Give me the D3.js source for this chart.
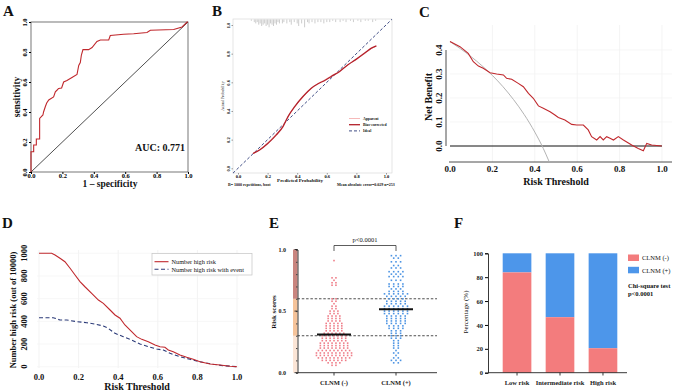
<!DOCTYPE html>
<html>
<head>
<meta charset="utf-8">
<script src="https://cdnjs.cloudflare.com/ajax/libs/d3/7.8.5/d3.min.js"></script>
<style>
body { margin: 0; background: #fff; }
svg { display: block; font-family: "Liberation Serif", "Times New Roman", serif; }
</style>
</head>
<body>
<svg></svg>
<script>
// ---- data ----

// A: ROC curve
let rocFpr = [0, 0, 0.017, 0.017, 0.034, 0.034, 0.055, 0.055, 0.076, 0.08, 0.091, 0.1, 0.113, 0.144, 0.155, 0.165, 0.176, 0.195, 0.208, 0.229, 0.261, 0.293, 0.304, 0.314, 0.321, 0.331, 0.367, 0.389, 0.42, 0.442, 0.495, 0.505, 0.59, 0.654, 0.739, 0.76, 0.909, 0.962, 0.994, 1]
let rocTpr = [0, 0.135, 0.135, 0.18, 0.18, 0.22, 0.22, 0.357, 0.38, 0.4, 0.435, 0.46, 0.48, 0.5, 0.535, 0.545, 0.557, 0.56, 0.6, 0.61, 0.63, 0.65, 0.71, 0.73, 0.78, 0.816, 0.816, 0.83, 0.87, 0.88, 0.88, 0.91, 0.918, 0.922, 0.93, 0.945, 0.95, 0.967, 1, 1]
let aucText = "AUC: 0.771"

// B: calibration
let calPred = [0.101, 0.146, 0.203, 0.259, 0.304, 0.338, 0.383, 0.439, 0.495, 0.541, 0.586, 0.63, 0.687, 0.743, 0.8, 0.856, 0.901, 0.935]
let calBias = [0.103, 0.128, 0.175, 0.233, 0.291, 0.361, 0.431, 0.501, 0.559, 0.59, 0.613, 0.641, 0.676, 0.722, 0.762, 0.804, 0.839, 0.855]
let calApparent = [0.105, 0.131, 0.18, 0.24, 0.296, 0.362, 0.428, 0.497, 0.556, 0.592, 0.617, 0.645, 0.678, 0.722, 0.76, 0.8, 0.835, 0.852]
let idealRange = [-0.034, 1.04]
let rugPred = [0.09, 0.11, 0.12, 0.13, 0.14, 0.15, 0.16, 0.17, 0.18, 0.19, 0.2, 0.21, 0.22, 0.23, 0.24, 0.25, 0.26, 0.27, 0.28, 0.3, 0.31, 0.33, 0.35, 0.36, 0.38, 0.4, 0.41, 0.43, 0.45, 0.47, 0.48, 0.5, 0.52, 0.54, 0.56, 0.58, 0.6, 0.62, 0.64, 0.66, 0.69, 0.71, 0.73, 0.76, 0.78, 0.81, 0.83, 0.86, 0.88, 0.91, 0.93]
let rugCount = [1, 2, 3, 2, 4, 3, 5, 4, 3, 5, 4, 6, 3, 4, 5, 3, 4, 2, 3, 3, 2, 3, 2, 4, 2, 3, 5, 3, 6, 2, 3, 2, 3, 2, 2, 3, 2, 2, 1, 2, 2, 1, 2, 1, 2, 1, 2, 1, 1, 2, 1]
let calLegend = ["Apparent", "Bias-corrected", "Ideal"]

// C: decision curve
let dcaThr = [0, 0.047, 0.086, 0.11, 0.134, 0.157, 0.189, 0.22, 0.252, 0.267, 0.291, 0.322, 0.346, 0.37, 0.393, 0.417, 0.44, 0.472, 0.495, 0.511, 0.542, 0.574, 0.598, 0.629, 0.652, 0.668, 0.692, 0.708, 0.723, 0.739, 0.755, 0.771, 0.794, 0.818, 0.857, 0.888, 0.912, 0.928, 0.951, 0.999]
let dcaModel = [0.435, 0.414, 0.386, 0.351, 0.333, 0.324, 0.305, 0.3, 0.296, 0.282, 0.278, 0.261, 0.247, 0.219, 0.199, 0.167, 0.157, 0.143, 0.129, 0.119, 0.108, 0.09, 0.0875, 0.0875, 0.067, 0.039, 0.025, 0.039, 0.025, 0.039, 0.032, 0.025, 0.039, 0.025, 0.004, -0.01, -0.02, 0.011, 0.004, 0]
let allThr = [0, 0.05, 0.1, 0.15, 0.2, 0.25, 0.3, 0.35, 0.4, 0.44, 0.468]
let allNb = [0.435, 0.405, 0.372, 0.335, 0.294, 0.247, 0.193, 0.131, 0.058, -0.01, -0.066]

// D: clinical impact curve
let ciThr = [0, 0.064, 0.081, 0.106, 0.131, 0.157, 0.182, 0.207, 0.232, 0.266, 0.3, 0.325, 0.359, 0.384, 0.409, 0.434, 0.468, 0.493, 0.519, 0.552, 0.586, 0.611, 0.636, 0.653, 0.678, 0.712, 0.746, 0.779, 0.813, 0.864, 0.914, 0.965, 1]
let ciHigh = [1000, 1000, 985, 956, 926, 868, 809, 750, 705, 647, 588, 559, 500, 456, 427, 368, 309, 265, 241, 220, 191, 176, 171, 147, 132, 103, 83, 65, 44, 24, 15, 4, 0]
let ciEvThr = [0, 0.072, 0.106, 0.14, 0.19, 0.241, 0.283, 0.325, 0.35, 0.384, 0.426, 0.468, 0.51, 0.552, 0.594, 0.628, 0.662, 0.712, 0.763, 0.813, 0.88, 0.93, 1]
let ciEvent = [432, 432, 412, 412, 397, 388, 376, 359, 338, 294, 265, 235, 200, 176, 156, 147, 118, 88, 65, 44, 21, 9, 0]
let ciLegend = ["Number high risk", "Number high risk with event"]

// E: risk score dot plot (scores binned, count of patients per bin)
let groupsE = ["CLNM (-)", "CLNM (+)"]
let negScore = [0.06, 0.08, 0.1, 0.12, 0.14, 0.16, 0.18, 0.2, 0.22, 0.24, 0.26, 0.28, 0.3, 0.32, 0.34, 0.36, 0.38, 0.4, 0.42, 0.44, 0.46, 0.48, 0.5, 0.52, 0.54, 0.56, 0.58, 0.6, 0.71, 0.73, 0.75, 0.77, 0.91]
let negCount = [2, 4, 7, 9, 10, 10, 9, 8, 8, 8, 7, 7, 7, 6, 5, 5, 5, 5, 4, 4, 4, 3, 3, 2, 2, 1, 2, 2, 2, 2, 1, 2, 1]
let posScore = [0.08, 0.1, 0.12, 0.14, 0.16, 0.18, 0.2, 0.22, 0.24, 0.26, 0.28, 0.3, 0.32, 0.34, 0.36, 0.38, 0.4, 0.42, 0.44, 0.46, 0.48, 0.5, 0.52, 0.54, 0.56, 0.58, 0.6, 0.62, 0.64, 0.66, 0.68, 0.7, 0.72, 0.75, 0.78, 0.8, 0.82, 0.85, 0.87, 0.9, 0.93, 0.95]
let posCount = [2, 3, 2, 1, 2, 1, 2, 2, 2, 2, 3, 3, 3, 3, 4, 4, 5, 5, 5, 5, 6, 6, 6, 6, 5, 5, 4, 5, 6, 4, 3, 4, 4, 3, 4, 3, 4, 3, 2, 3, 2, 3]
let medianE = [0.31, 0.515]
let cutoffs = [0.3, 0.6]
let bandBreaks = [0, 0.3, 0.6, 1]

// F: stacked percentages
let riskGroups = ["Low risk", "Intermediate risk", "High risk"]
let pctNeg = [84, 46.5, 20.5]
let pctPos = [16, 53.5, 79.5]
let legendF = ["CLNM (-)", "CLNM (+)"]

let svg = d3.select("svg").attr("width", 676).attr("height", 391)
svg.append("rect").attr("width", 676).attr("height", 391).attr("fill", "#fff")

let red = "#c0282d"
let navy = "#2b3a78"

let text = (x, y, s, size, opt = {}) => {
    let t = svg.append("text")
        .attr("x", x).attr("y", y)
        .attr("font-size", size)
        .attr("font-weight", opt.bold ? "bold" : "normal")
        .attr("text-anchor", opt.anchor || "start")
        .attr("fill", opt.fill || "#111")
        .text(s)
    if (opt.rotate) t.attr("transform", `rotate(-90, ${x}, ${y})`)
    return t
}

// vertical tick labels like R's default
let rotLabels = (g, dx) => {
    g.selectAll(".tick text")
        .attr("x", 0).attr("dy", 0)
        .attr("transform", `translate(${dx},0) rotate(-90)`)
        .attr("text-anchor", "middle")
}

let panelLetters = () => {
    [["A", 3, 16], ["B", 212, 16], ["C", 419, 17], ["D", 2, 228], ["E", 269, 228], ["F", 454, 228]]
        .forEach(d => text(d[1], d[2], d[0], 15, {bold: true}))
}

let drawA = () => {
    let x = d3.scaleLinear().domain([0, 1]).range([31, 188])
    let y = d3.scaleLinear().domain([0, 1]).range([172, 22])
    let ticks = [0, 0.2, 0.4, 0.6, 0.8, 1]

    svg.append("rect").attr("x", 31).attr("y", 22).attr("width", 157).attr("height", 150)
        .attr("fill", "none").attr("stroke", "#555").attr("stroke-width", 0.8)

    let gx = svg.append("g").attr("transform", "translate(0,172)")
        .call(d3.axisBottom(x).tickValues(ticks).tickFormat(d3.format(".1f")).tickSize(2))
    let gy = svg.append("g").attr("transform", "translate(31,0)")
        .call(d3.axisLeft(y).tickValues(ticks).tickFormat(d3.format(".1f")).tickSize(2))
    ;[gx, gy].forEach(g => {
        g.select(".domain").remove()
        g.selectAll("text").attr("font-size", 6.5).attr("font-weight", "bold").attr("font-family", "Liberation Serif")
    })
    gx.selectAll("text").attr("dy", "0.6em").attr("y", 2)
    rotLabels(gy, -4)

    svg.append("line").attr("x1", x(0)).attr("y1", y(0)).attr("x2", x(1)).attr("y2", y(1))
        .attr("stroke", "#222").attr("stroke-width", 0.8)

    let line = d3.line().x(d => x(d[0])).y(d => y(d[1]))
    svg.append("path").datum(rocFpr.map((f, i) => [f, rocTpr[i]]))
        .attr("d", line).attr("fill", "none").attr("stroke", red).attr("stroke-width", 1.1)

    text(135, 151, aucText, 10, {bold: true})
    text(110, 187, "1 \u2013 specificity", 9.5, {bold: true, anchor: "middle"})
    text(20, 97, "sensitivity", 9.5, {bold: true, anchor: "middle", rotate: true})
}

let drawB = () => {
    let x = d3.scaleLinear().domain([0, 1]).range([238, 386])
    let y = d3.scaleLinear().domain([0, 1]).range([168.3, 25])
    let ticks = [0, 0.2, 0.4, 0.6, 0.8, 1]

    svg.append("rect").attr("x", 233).attr("y", 19).attr("width", 159).attr("height", 154)
        .attr("fill", "none").attr("stroke", "#d4d4d4").attr("stroke-width", 0.6)

    let gx = svg.append("g").attr("transform", "translate(0,173)")
        .call(d3.axisBottom(x).tickValues(ticks).tickFormat(d3.format(".1f")).tickSize(1.5))
    let gy = svg.append("g").attr("transform", "translate(233,0)")
        .call(d3.axisLeft(y).tickValues(ticks).tickFormat(d3.format(".1f")).tickSize(1.5))
    ;[gx, gy].forEach(g => {
        g.select(".domain").remove()
        g.selectAll("line").attr("stroke", "#999")
        g.selectAll("text").attr("font-size", 4.5).attr("font-weight", "bold").attr("font-family", "Liberation Serif")
    })
    gx.selectAll("text").attr("y", 2).attr("dy", "0.7em")
    rotLabels(gy, -3)

    // rug of predicted probabilities along the top
    svg.append("g").selectAll("line").data(rugPred).enter().append("line")
        .attr("x1", d => x(d)).attr("x2", d => x(d))
        .attr("y1", 19.5).attr("y2", (d, i) => 19.5 + rugCount[i] * 1.3)
        .attr("stroke", "#9a9a9a").attr("stroke-width", 0.5)

    svg.append("line")
        .attr("x1", x(idealRange[0])).attr("y1", y(idealRange[0]))
        .attr("x2", x(idealRange[1])).attr("y2", y(idealRange[1]))
        .attr("stroke", navy).attr("stroke-width", 0.9).attr("stroke-dasharray", "3,2")

    let line = d3.line().x(d => x(d[0])).y(d => y(d[1])).curve(d3.curveMonotoneX)
    svg.append("path").datum(calPred.map((p, i) => [p, calApparent[i]]))
        .attr("d", line).attr("fill", "none").attr("stroke", "#f08a8a").attr("stroke-width", 0.6)
    svg.append("path").datum(calPred.map((p, i) => [p, calBias[i]]))
        .attr("d", line).attr("fill", "none").attr("stroke", "#b3202a").attr("stroke-width", 1.3)

    // legend
    let styles = [["#f08a8a", 0.6, null], ["#b3202a", 1.3, null], [navy, 0.9, "3,2"]]
    calLegend.forEach((s, i) => {
        let yy = 118.5 + i * 6.2
        let l = svg.append("line").attr("x1", 349).attr("x2", 360).attr("y1", yy).attr("y2", yy)
            .attr("stroke", styles[i][0]).attr("stroke-width", styles[i][1])
        if (styles[i][2]) l.attr("stroke-dasharray", styles[i][2])
        text(363, yy + 1.3, s, 3.8, {bold: true})
    })

    text(300, 182, "Predicted Probability", 5, {bold: true, anchor: "middle"})
    text(228, 185.5, "B= 1000 repetitions, boot", 4, {bold: true})
    text(337, 185.5, "Mean absolute error=0.029 n=253", 4, {bold: true})
    text(224, 96, "Actual Probability", 4, {anchor: "middle", rotate: true})
}

let drawC = () => {
    let x = d3.scaleLinear().domain([0, 1]).range([450, 662])
    let y = d3.scaleLinear().domain([0, 0.4]).range([146, 50])
    let xt = [0, 0.2, 0.4, 0.6, 0.8, 1]
    let yt = [0, 0.1, 0.2, 0.3, 0.4]

    svg.append("g").selectAll("line").data(xt.slice(1)).enter().append("line")
        .attr("x1", d => x(d)).attr("x2", d => x(d)).attr("y1", 25).attr("y2", 162)
        .attr("stroke", "#efefef").attr("stroke-width", 0.7)
    svg.append("g").selectAll("line").data(yt.slice(1)).enter().append("line")
        .attr("x1", 450).attr("x2", 672).attr("y1", d => y(d)).attr("y2", d => y(d))
        .attr("stroke", "#f2f2f2").attr("stroke-width", 0.7)

    svg.append("line").attr("x1", 446).attr("x2", 446).attr("y1", y(0)).attr("y2", y(0.4))
        .attr("stroke", "#222").attr("stroke-width", 0.8)
    svg.append("line").attr("x1", 449).attr("x2", 672).attr("y1", 162).attr("y2", 162)
        .attr("stroke", "#222").attr("stroke-width", 0.8)

    svg.append("g").selectAll("text").data(yt).enter().append("text")
        .attr("transform", d => `translate(442, ${y(d)}) rotate(-90)`)
        .attr("text-anchor", "middle").attr("font-size", 9).attr("font-weight", "bold").attr("fill", "#111")
        .text(d3.format(".1f"))
    svg.append("g").selectAll("text").data(xt).enter().append("text")
        .attr("x", d => x(d)).attr("y", 171.5)
        .attr("text-anchor", "middle").attr("font-size", 9).attr("font-weight", "bold").attr("fill", "#111")
        .text(d3.format(".1f"))

    // treat none
    svg.append("line").attr("x1", x(0)).attr("x2", x(1)).attr("y1", y(0)).attr("y2", y(0))
        .attr("stroke", "#111").attr("stroke-width", 1)

    let line = d3.line().x(d => x(d[0])).y(d => y(d[1]))
    svg.append("path").datum(allThr.map((t, i) => [t, allNb[i]]))
        .attr("d", line.curve(d3.curveMonotoneX)).attr("fill", "none").attr("stroke", "#b4b4b4").attr("stroke-width", 1)
    svg.append("path").datum(dcaThr.map((t, i) => [t, dcaModel[i]]))
        .attr("d", line.curve(d3.curveLinear)).attr("fill", "none").attr("stroke", red).attr("stroke-width", 1.1)

    text(556, 185, "Risk Threshold", 10, {bold: true, anchor: "middle"})
    text(432, 97, "Net Benefit", 10, {bold: true, anchor: "middle", rotate: true})
}

let drawD = () => {
    let x = d3.scaleLinear().domain([0, 1]).range([39, 237])
    let y = d3.scaleLinear().domain([0, 1000]).range([366.7, 253.3])
    let xt = [0, 0.2, 0.4, 0.6, 0.8, 1]
    let yt = [0, 200, 400, 600, 800, 1000]

    svg.append("g").selectAll("line").data(xt).enter().append("line")
        .attr("x1", d => x(d)).attr("x2", d => x(d)).attr("y1", 250).attr("y2", 368)
        .attr("stroke", "#eeeeee").attr("stroke-width", 0.7)
    svg.append("g").selectAll("line").data(yt).enter().append("line")
        .attr("x1", 37).attr("x2", 239).attr("y1", d => y(d)).attr("y2", d => y(d))
        .attr("stroke", "#f3f3f3").attr("stroke-width", 0.7)

    svg.append("g").selectAll("text").data(yt).enter().append("text")
        .attr("transform", d => `translate(27, ${y(d)}) rotate(-90)`)
        .attr("text-anchor", "middle").attr("font-size", 8.5).attr("font-weight", "bold").attr("fill", "#111")
        .text(d => d)
    svg.append("g").selectAll("text").data(xt).enter().append("text")
        .attr("x", d => x(d)).attr("y", 379.5)
        .attr("text-anchor", "middle").attr("font-size", 8.5).attr("font-weight", "bold").attr("fill", "#111")
        .text(d3.format(".1f"))

    let line = d3.line().x(d => x(d[0])).y(d => y(d[1]))
    svg.append("path").datum(ciEvThr.map((t, i) => [t, ciEvent[i]]))
        .attr("d", line).attr("fill", "none").attr("stroke", navy).attr("stroke-width", 1.1).attr("stroke-dasharray", "4,2.5")
    svg.append("path").datum(ciThr.map((t, i) => [t, ciHigh[i]]))
        .attr("d", line).attr("fill", "none").attr("stroke", red).attr("stroke-width", 1.1)

    // legend
    svg.append("rect").attr("x", 152).attr("y", 253.5).attr("width", 100).attr("height", 21.5)
        .attr("fill", "#fff").attr("stroke", "#c4c4c4").attr("stroke-width", 0.7)
    ciLegend.forEach((s, i) => {
        let yy = 261.7 + i * 7.6
        let l = svg.append("line").attr("x1", 154.5).attr("x2", 168.5).attr("y1", yy).attr("y2", yy)
            .attr("stroke", i ? navy : red).attr("stroke-width", 1.1)
        if (i) l.attr("stroke-dasharray", "4,2.5")
        text(171.5, yy + 2.2, s, 6.3)
    })

    text(137, 390, "Risk Threshold", 10, {bold: true, anchor: "middle"})
    text(16, 310, "Number high risk (out of 10000)", 8.5, {bold: true, anchor: "middle", rotate: true})
}

let drawE = () => {
    let y = d3.scaleLinear().domain([0, 1]).range([372.7, 249.5])
    let x = d3.scalePoint().domain(groupsE).range([334, 396])
    let axisX = 297.5
    let spread = [3.9, 4.6]

    // risk band bar beside the axis
    let bandColors = ["#fbe5d6", "#f5c39a", "#c9857f"]
    svg.append("g").selectAll("rect").data(bandBreaks.slice(0, -1)).enter().append("rect")
        .attr("x", 293).attr("width", axisX - 293)
        .attr("y", (d, i) => y(bandBreaks[i + 1])).attr("height", (d, i) => y(d) - y(bandBreaks[i + 1]))
        .attr("fill", (d, i) => bandColors[i])

    let gy = svg.append("g").attr("transform", `translate(${axisX},0)`)
        .call(d3.axisLeft(y).ticks(10).tickSize(1.5).tickFormat(""))
    gy.select(".domain").attr("stroke", "#222").attr("stroke-width", 0.9)
    gy.selectAll(".tick line").attr("stroke", "#444")
    svg.append("g").selectAll("line").data([0, 0.5, 1]).enter().append("line")
        .attr("x1", axisX - 3).attr("x2", axisX).attr("y1", d => y(d)).attr("y2", d => y(d))
        .attr("stroke", "#222").attr("stroke-width", 0.9)
    svg.append("g").selectAll("text").data([0, 0.5, 1]).enter().append("text")
        .attr("x", 286).attr("y", d => y(d) + 2).attr("text-anchor", "end")
        .attr("font-size", 6).attr("font-weight", "bold").attr("fill", "#222")
        .text(d3.format(".1f"))

    svg.append("line").attr("x1", axisX).attr("x2", 437).attr("y1", 372.7).attr("y2", 372.7)
        .attr("stroke", "#222").attr("stroke-width", 0.9)
    svg.append("g").selectAll("line").data(groupsE).enter().append("line")
        .attr("x1", d => x(d)).attr("x2", d => x(d)).attr("y1", 372.7).attr("y2", 375.5)
        .attr("stroke", "#222").attr("stroke-width", 0.9)
    svg.append("g").selectAll("text").data(groupsE).enter().append("text")
        .attr("x", d => x(d)).attr("y", 384.5).attr("text-anchor", "middle")
        .attr("font-size", 6.5).attr("font-weight", "bold").attr("fill", "#222")
        .text(d => d)

    svg.append("g").selectAll("line").data(cutoffs).enter().append("line")
        .attr("x1", axisX).attr("x2", 437).attr("y1", d => y(d)).attr("y2", d => y(d))
        .attr("stroke", "#222").attr("stroke-width", 0.8).attr("stroke-dasharray", "2.5,1.8")

    let swarm = (scores, counts, gi) => {
        let pts = []
        scores.forEach((v, i) => {
            for (let k = 0; k < counts[i]; k++) pts.push({group: groupsE[gi], gi, v, off: k - (counts[i] - 1) / 2})
        })
        return pts
    }
    let pts = swarm(negScore, negCount, 0).concat(swarm(posScore, posCount, 1))
    svg.append("g").selectAll("rect").data(pts).enter().append("rect")
        .attr("x", d => x(d.group) + d.off * spread[d.gi] - 0.8)
        .attr("y", d => y(d.v) - 0.8)
        .attr("width", 1.6).attr("height", 1.6)
        .attr("fill", d => d.gi === 0 ? "#ef7d88" : "#4b93e3")

    svg.append("g").selectAll("line").data(medianE).enter().append("line")
        .attr("x1", (d, i) => x(groupsE[i]) - 17).attr("x2", (d, i) => x(groupsE[i]) + 17)
        .attr("y1", d => y(d)).attr("y2", d => y(d))
        .attr("stroke", "#111").attr("stroke-width", 1.8)

    svg.append("path")
        .attr("d", `M${x(groupsE[0])},251V245.5H${x(groupsE[1])}V251`)
        .attr("fill", "none").attr("stroke", "#333").attr("stroke-width", 0.8)
    text(365, 241.5, "p<0.0001", 6.5, {anchor: "middle"})
    text(276, 312, "Risk scores", 7, {bold: true, anchor: "middle", rotate: true})
}

let drawF = () => {
    let y = d3.scaleLinear().domain([0, 100]).range([372.7, 253.3])
    let x = d3.scaleBand().domain(riskGroups).range([488, 632]).paddingInner(0.333).paddingOuter(0.342)
    let cNeg = "#f37c7d"
    let cPos = "#4d96ea"

    svg.append("g").selectAll("rect").data(riskGroups).enter().append("rect")
        .attr("x", d => x(d)).attr("width", x.bandwidth())
        .attr("y", (d, i) => y(100)).attr("height", (d, i) => y(100 - pctPos[i]) - y(100))
        .attr("fill", cPos)
    svg.append("g").selectAll("rect").data(riskGroups).enter().append("rect")
        .attr("x", d => x(d)).attr("width", x.bandwidth())
        .attr("y", (d, i) => y(pctNeg[i])).attr("height", (d, i) => y(0) - y(pctNeg[i]))
        .attr("fill", cNeg)

    let gy = svg.append("g").attr("transform", "translate(488,0)")
        .call(d3.axisLeft(y).tickValues([0, 20, 40, 60, 80, 100]).tickSize(3).tickPadding(2))
    gy.select(".domain").attr("stroke", "#222").attr("stroke-width", 0.9)
    gy.selectAll("text").attr("font-size", 6.5).attr("font-weight", "bold").attr("font-family", "Liberation Serif").attr("fill", "#222")

    svg.append("line").attr("x1", 488).attr("x2", 627).attr("y1", 372.7).attr("y2", 372.7)
        .attr("stroke", "#222").attr("stroke-width", 0.9)
    svg.append("g").selectAll("line").data(riskGroups).enter().append("line")
        .attr("x1", d => x(d) + x.bandwidth() / 2).attr("x2", d => x(d) + x.bandwidth() / 2)
        .attr("y1", 372.7).attr("y2", 375.5).attr("stroke", "#222").attr("stroke-width", 0.9)
    svg.append("g").selectAll("text").data(riskGroups).enter().append("text")
        .attr("x", d => x(d) + x.bandwidth() / 2).attr("y", 385)
        .attr("text-anchor", "middle").attr("font-size", 6.5).attr("font-weight", "bold").attr("fill", "#222")
        .text(d => d)

    legendF.forEach((s, i) => {
        svg.append("rect").attr("x", 628).attr("y", 254.5 + i * 12.3).attr("width", 11).attr("height", 6.5)
            .attr("fill", i ? cPos : cNeg)
        text(642, 260.3 + i * 12.3, s, 6.5)
    })
    text(628, 287.5, "Chi-square test", 6.5, {bold: true})
    text(628, 295.5, "p<0.0001", 6.5, {bold: true})
    text(468, 312, "Percentage (%)", 7, {anchor: "middle", rotate: true})
}

drawA()
drawB()
drawC()
drawD()
drawE()
drawF()
panelLetters()
</script>
</body>
</html>
